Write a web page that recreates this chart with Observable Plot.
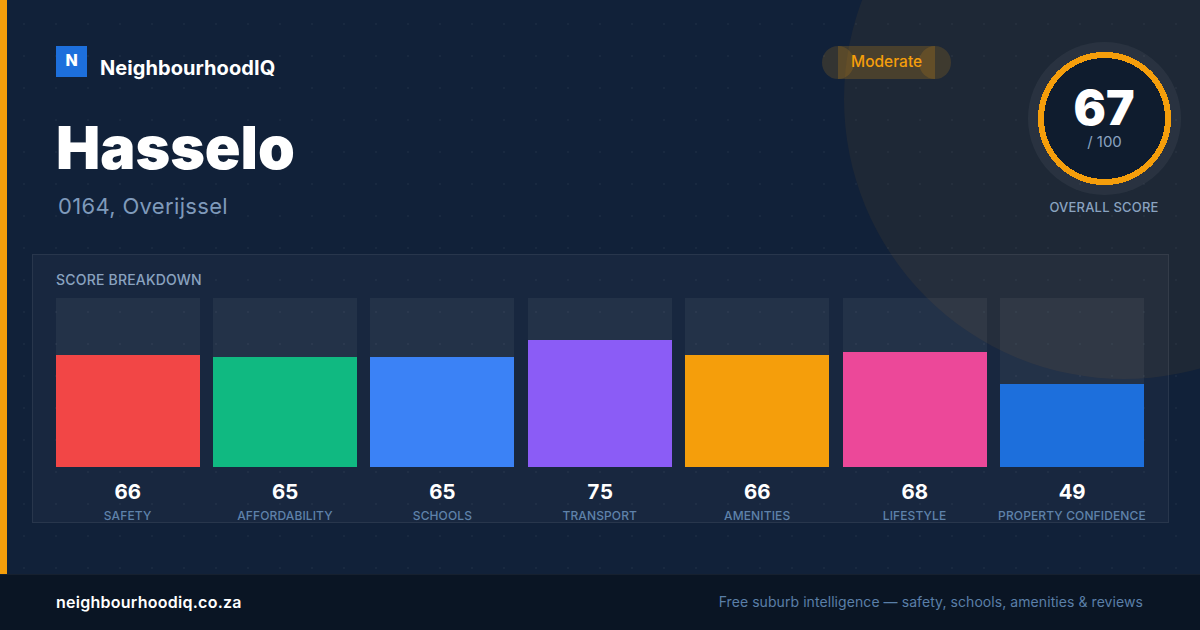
<!DOCTYPE html>
<html><head><meta charset="utf-8">
<script src="https://cdn.jsdelivr.net/npm/d3@7"></script>
<script src="https://cdn.jsdelivr.net/npm/@observablehq/plot@0.6"></script>
<style>
html,body{margin:0;padding:0;width:1200px;height:630px;overflow:hidden;background:#112139;font-family:Inter,sans-serif}
#page{position:relative;width:1200px;height:630px;overflow:hidden;background-color:#112139;
 background-image:radial-gradient(circle at 24px 24px,rgba(255,255,255,.035) 1.5px,transparent 1.5px);background-size:32px 32px}
#page>*{position:absolute}
.t{white-space:nowrap;line-height:1}
#chart{left:0;top:0}
#chart svg{display:block;background:transparent;overflow:visible}
#chart [aria-label="x-axis tick label"] text{letter-spacing:.12px}
</style></head><body>
<div id="page">
 <div style="left:844px;top:-181px;width:560px;height:560px;border-radius:50%;background:rgba(245,158,11,.06)"></div>
 <div style="left:0;top:0;width:7px;height:574px;background:#f59e0b"></div>
 <div style="left:56px;top:46px;width:31px;height:31px;background:#1d6fdc"></div>
 <div class="t" style="left:56px;top:45px;width:31px;text-align:center;line-height:31px;color:#fff;font-weight:800;font-size:16px">N</div>
 <div class="t" style="left:100px;top:58px;font-size:20px;font-weight:700;color:#fff;letter-spacing:.07px">NeighbourhoodIQ</div>
 <div class="t" style="left:56px;top:118px;font-size:59px;font-weight:900;color:#fff">Hasselo</div>
 <div class="t" style="left:58px;top:195px;font-size:22px;color:#7f9abb;letter-spacing:.33px">0164, Overijssel</div>

 <div style="left:838px;top:46px;width:97px;height:33px;background:rgba(245,158,11,.2)"></div>
 <div style="left:822px;top:46px;width:32px;height:33px;border-radius:50%;background:rgba(245,158,11,.15)"></div>
 <div style="left:919px;top:46px;width:32px;height:33px;border-radius:50%;background:rgba(245,158,11,.15)"></div>
 <div class="t" style="left:851px;top:54px;font-size:15.5px;font-weight:500;color:#f59e0b">Moderate</div>

 <div style="left:1028px;top:42px;width:153px;height:153px;border-radius:50%;background:rgba(255,255,255,.05)"></div>
 <div style="left:1038px;top:52px;width:133px;height:133px;background:radial-gradient(circle at center,#0f1c2e 0 60.5px,#f59e0b 60.5px 66.5px,transparent 66.5px)"></div>
 <div class="t" style="left:1038px;width:132px;text-align:center;top:84px;font-size:48px;font-weight:900;color:#fff">67</div>
 <div class="t" style="left:1038px;width:133px;text-align:center;top:134px;font-size:15px;color:#8aa3c0">/ 100</div>
 <div class="t" style="left:1004px;width:200px;text-align:center;top:201px;font-size:13px;font-weight:500;letter-spacing:.2px;color:#8aa3c0">OVERALL SCORE</div>

 <div style="left:32px;top:254px;width:1135px;height:267px;background:rgba(255,255,255,.03);border:1px solid rgba(255,255,255,.07)"></div>
 <div class="t" style="left:56px;top:273px;font-size:14px;font-weight:500;letter-spacing:.2px;color:#8aa3c0">SCORE BREAKDOWN</div>

 <div style="left:0;top:574px;width:1200px;height:56px;background:#0a1524;box-sizing:border-box;border-top:1px solid rgba(255,255,255,.05)"></div>
 <div class="t" style="left:56px;top:594px;font-size:16px;font-weight:600;color:#fff;letter-spacing:.26px">neighbourhoodiq.co.za</div>
 <div class="t" style="right:57px;top:595px;font-size:14px;color:#5a7fa8;letter-spacing:.07px">Free suburb intelligence — safety, schools, amenities &amp; reviews</div>
 <div id="chart"></div>
</div>
<script>
const categories = ["SAFETY","AFFORDABILITY","SCHOOLS","TRANSPORT","AMENITIES","LIFESTYLE","PROPERTY CONFIDENCE"];
const scores = [66,65,65,75,66,68,49];
const barColors = ["#f24646","#10b981","#3b82f6","#8b5cf6","#f59e0b","#ec4899","#1d6fdc"];
const maxScore = 100;

const rows = categories.map((category,i)=>({category,score:scores[i]}));
const plot = Plot.plot({
  width:1200,height:630,
  marginTop:298,marginBottom:163,marginLeft:55.7,marginRight:55.96,
  style:{background:"transparent",fontFamily:"Inter, sans-serif",overflow:"visible"},
  x:{type:"band",domain:categories,round:false,paddingInner:13.39/157.39,paddingOuter:0,align:0},
  y:{domain:[0,maxScore],axis:null},
  color:{type:"ordinal",domain:categories,range:barColors},
  marks:[
    Plot.barY(rows,{x:"category",y:()=>maxScore,fill:"#fff",fillOpacity:.05,shapeRendering:"crispEdges"}),
    Plot.barY(rows,{x:"category",y:"score",fill:"category",shapeRendering:"crispEdges"}),
    Plot.axisX({anchor:"bottom",label:null,tickSize:0,tickPadding:44,fontSize:12,fontWeight:500,color:"#5f82aa",dx:-0.6}),
    Plot.text(rows,{x:"category",y:()=>0,text:"score",dy:25,dx:-0.4,fill:"#fff",fontSize:20.5,fontWeight:700})
  ]
});
document.getElementById("chart").appendChild(plot);
</script>
</body></html>
